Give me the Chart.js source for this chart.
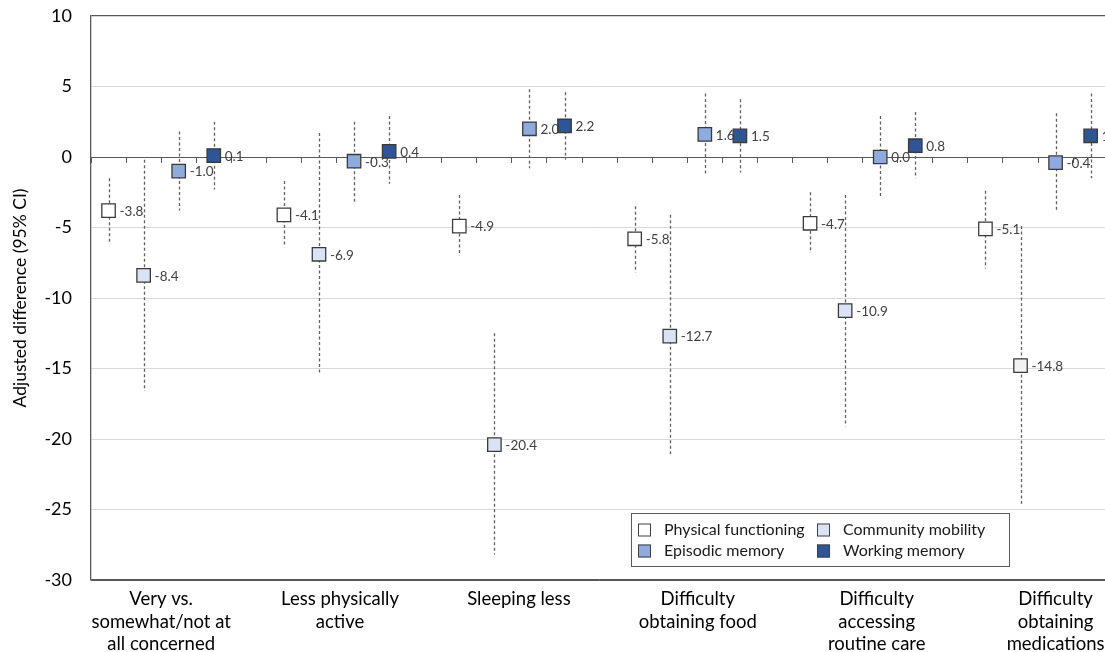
<!DOCTYPE html>
<html lang="en">
<head>
    <meta charset="UTF-8">
    <title>Adjusted difference (95% CI)</title>
    <script src="https://cdn.jsdelivr.net/npm/chart.js"></script>
    <style>
        html, body {
            margin: 0;
            padding: 0;
            background: #fff;
            overflow: hidden;
        }
        .chart-container {
            position: relative;
            width: 1119px;
            height: 652px;
        }
    </style>
</head>
<body>
    <div class="chart-container">
        <canvas id="ciChart"></canvas>
    </div>

    <script>
        // Categorias (etiquetas del eje x, en varias lineas)
        const categories = [
            ['Very vs.', 'somewhat/not at', 'all concerned'],
            ['Less physically', 'active'],
            ['Sleeping less'],
            ['Difficulty', 'obtaining food'],
            ['Difficulty', 'accessing', 'routine care'],
            ['Difficulty', 'obtaining', 'medications']
        ];
        const seriesNames = ['Physical functioning', 'Community mobility', 'Episodic memory', 'Working memory'];
        const yTicks = [10, 5, 0, -5, -10, -15, -20, -25, -30];

        // Estimaciones y limites del IC 95%
        const physical   = [-3.8, -4.1, -4.9, -5.8, -4.7, -5.1];
        const physicalLo = [-6.1, -6.4, -7.0, -8.2, -6.8, -7.9];
        const physicalHi = [-1.5, -1.7, -2.7, -3.5, -2.5, -2.4];

        const community   = [-8.4, -6.9, -20.4, -12.7, -10.9, -14.8];
        const communityLo = [-16.6, -15.4, -28.2, -21.2, -19.1, -24.6];
        const communityHi = [-0.2, 1.7, -12.5, -4.1, -2.7, -4.9];

        const episodic   = [-1.0, -0.3, 2.0, 1.6, 0.0, -0.4];
        const episodicLo = [-3.8, -3.2, -0.8, -1.2, -2.8, -3.9];
        const episodicHi = [1.8, 2.5, 4.8, 4.5, 2.9, 3.1];

        const working   = [0.1, 0.4, 2.2, 1.5, 0.8, 1.5];
        const workingLo = [-2.3, -1.9, -0.2, -1.1, -1.5, -1.5];
        const workingHi = [2.5, 2.9, 4.6, 4.1, 3.2, 4.5];

        const FONT = 'Lato, "Open Sans", sans-serif';
        const AXIS = '#595959';
        const slotsPerGroup = seriesNames.length + 1;
        const slotCount = categories.length * slotsPerGroup - 1;

        // cada serie ocupa su propio hueco dentro del grupo
        function puntos(values, lo, hi, s) {
            return values.map((v, g) => ({ x: g * slotsPerGroup + s + 0.5, y: v, lo: lo[g], hi: hi[g] }));
        }

        const fills = ['#ffffff', '#dae3f3', '#8faadc', '#2f5597'];

        // Barras de error discontinuas
        const errorBars = {
            id: 'errorBars',
            beforeDatasetsDraw(chart) {
                const { ctx, scales: { x, y } } = chart;
                ctx.save();
                ctx.strokeStyle = '#606060';
                ctx.lineWidth = 1.3;
                ctx.setLineDash([3, 2.5]);
                chart.data.datasets.forEach(ds => {
                    ds.data.forEach(p => {
                        const px = Math.round(x.getPixelForValue(p.x)) + 0.5;
                        ctx.beginPath();
                        ctx.moveTo(px, y.getPixelForValue(p.hi));
                        ctx.lineTo(px, y.getPixelForValue(p.lo));
                        ctx.stroke();
                    });
                });
                ctx.restore();
            }
        };

        // Etiquetas de valores
        const valueLabels = {
            id: 'valueLabels',
            afterDatasetsDraw(chart) {
                const { ctx } = chart;
                ctx.save();
                ctx.font = '13.5px ' + FONT;
                ctx.fillStyle = '#404040';
                ctx.textBaseline = 'middle';
                chart.data.datasets.forEach((ds, i) => {
                    chart.getDatasetMeta(i).data.forEach((el, j) => {
                        ctx.fillText(ds.data[j].y.toFixed(1), el.x + 11, el.y + 1);
                    });
                });
                ctx.restore();
            }
        };

        // Leyenda dentro del area del grafico
        const boxLegend = {
            id: 'boxLegend',
            afterDraw(chart) {
                const { ctx, chartArea } = chart;
                const left = chartArea.left + 540;
                const top = chartArea.top + 497;
                ctx.save();
                ctx.fillStyle = '#fff';
                ctx.fillRect(left, top, 378, 53);
                ctx.strokeStyle = AXIS;
                ctx.lineWidth = 1;
                ctx.strokeRect(left + 0.5, top + 0.5, 378, 53);
                ctx.font = '16px ' + FONT;
                ctx.textBaseline = 'middle';
                seriesNames.forEach((name, i) => {
                    const col = i % 2, row = Math.floor(i / 2);
                    const sx = left + (col ? 186 : 7);
                    const cy = top + (row ? 38 : 17);
                    ctx.fillStyle = fills[i];
                    ctx.fillRect(sx, cy - 6.5, 13, 13);
                    ctx.strokeStyle = '#404040';
                    ctx.strokeRect(sx + 0.5, cy - 6.5 + 0.5, 12, 12);
                    ctx.fillStyle = '#1a1a1a';
                    ctx.fillText(name, sx + 26, cy);
                });
                ctx.restore();
            }
        };

        const serieConfig = (label, data, fill) => ({
            label: label,
            data: data,
            showLine: false,
            pointStyle: 'rect',
            pointRadius: 9.5,
            pointHoverRadius: 9.5,
            pointBorderWidth: 1.3,
            pointBorderColor: '#3a3a3a',
            pointBackgroundColor: fill,
            backgroundColor: fill,
            borderColor: '#3a3a3a'
        });

        const communityFill = community.map((v, i) => i === community.length - 1 ? '#f2f2f2' : fills[1]);

        new Chart(document.getElementById('ciChart'), {
            type: 'scatter',
            data: {
                datasets: [
                    serieConfig(seriesNames[0], puntos(physical, physicalLo, physicalHi, 0), fills[0]),
                    serieConfig(seriesNames[1], puntos(community, communityLo, communityHi, 1), communityFill),
                    serieConfig(seriesNames[2], puntos(episodic, episodicLo, episodicHi, 2), fills[2]),
                    serieConfig(seriesNames[3], puntos(working, workingLo, workingHi, 3), fills[3])
                ]
            },
            plugins: [errorBars, valueLabels, boxLegend],
            options: {
                responsive: true,
                maintainAspectRatio: false,
                animation: false,
                layout: {
                    padding: { top: 16, right: 0, bottom: 0, left: 0 }
                },
                scales: {
                    x: {
                        type: 'linear',
                        position: { y: 0 },
                        min: 0,
                        max: slotCount,
                        ticks: {
                            display: false,
                            stepSize: 1,
                            maxTicksLimit: 40
                        },
                        grid: {
                            drawOnChartArea: false,
                            drawTicks: true,
                            tickLength: 5,
                            color: AXIS
                        },
                        border: {
                            display: true,
                            color: AXIS,
                            width: 1
                        }
                    },
                    x2: {
                        type: 'linear',
                        position: 'bottom',
                        min: 0,
                        max: slotCount,
                        afterBuildTicks(scale) {
                            scale.ticks = categories.map((c, g) => ({ value: g * 5.1 + 2 }));
                        },
                        afterFit(scale) {
                            scale.height = 72;
                        },
                        ticks: {
                            autoSkip: false,
                            maxRotation: 0,
                            padding: 0,
                            color: '#000',
                            font: { family: FONT, size: 18.5, lineHeight: 1.22 },
                            callback: (value, index) => categories[index]
                        },
                        grid: { display: false },
                        border: { display: true, color: AXIS, width: 1.3 }
                    },
                    y: {
                        min: -30,
                        max: 10,
                        afterBuildTicks(scale) {
                            scale.ticks = yTicks.map(v => ({ value: v }));
                        },
                        afterFit(scale) {
                            scale.width = 91;
                        },
                        ticks: {
                            padding: 0,
                            color: '#000',
                            font: { family: FONT, size: 18 }
                        },
                        grid: {
                            drawTicks: true,
                            tickLength: 19,
                            tickColor: 'rgba(0,0,0,0)',
                            color: ctx => (ctx.tick && (ctx.tick.value === 10 || ctx.tick.value === -30)) ? AXIS : '#d9d9d9',
                            lineWidth: ctx => (ctx.tick && ctx.tick.value === 10) ? 1.3 : 1
                        },
                        border: { display: true, color: AXIS, width: 1.3 },
                        title: {
                            display: true,
                            text: 'Adjusted difference (95% CI)',
                            color: '#000',
                            font: { family: FONT, size: 17.5 },
                            padding: { top: 10, bottom: 0 }
                        }
                    }
                },
                plugins: {
                    legend: { display: false },
                    tooltip: { enabled: false }
                }
            }
        });
    </script>
</body>
</html>
